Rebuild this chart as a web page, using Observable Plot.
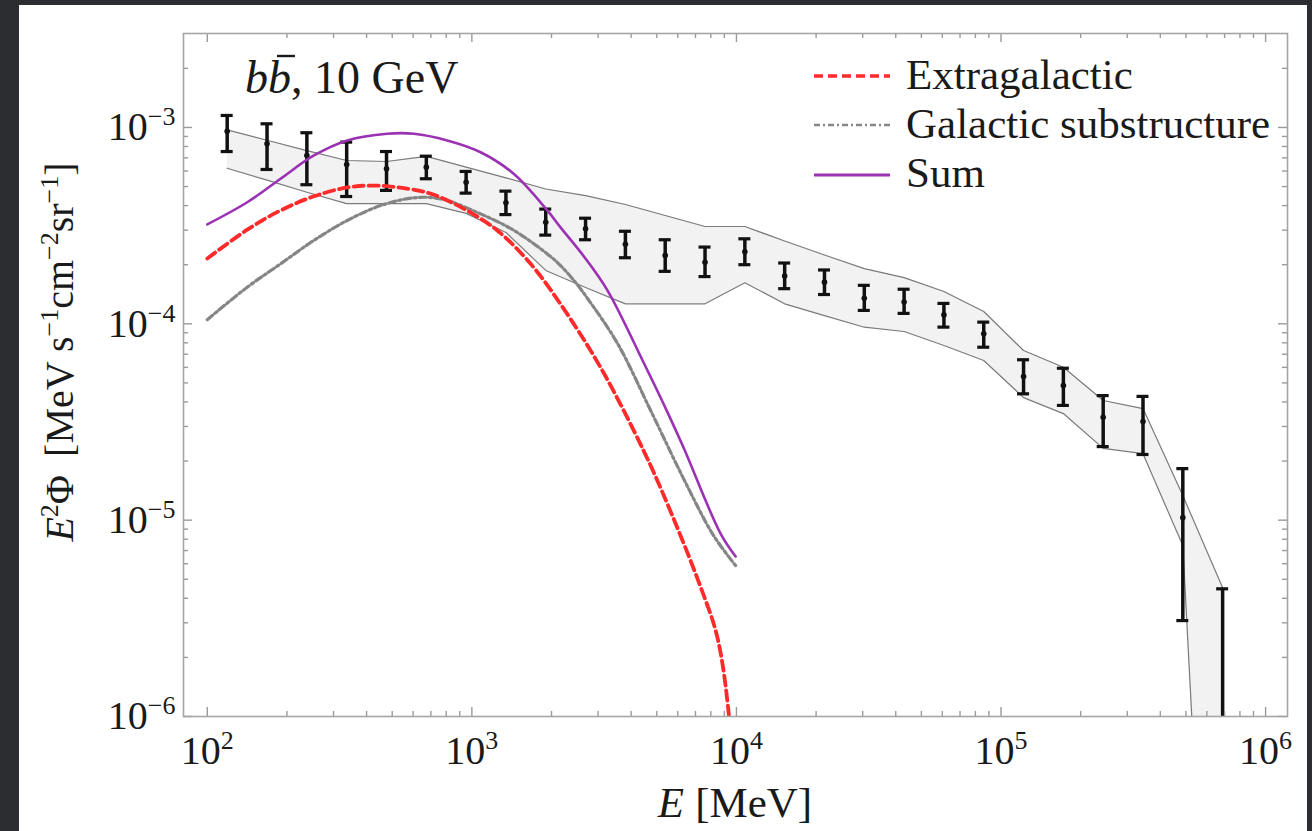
<!DOCTYPE html>
<html><head><meta charset="utf-8">
<script src="https://cdn.jsdelivr.net/npm/d3@7"></script>
<script src="https://cdn.jsdelivr.net/npm/@observablehq/plot@0.6"></script>
<style>
body{margin:0;background:#2c2d31;width:1312px;height:831px;overflow:hidden;position:relative;font-family:"Liberation Serif",serif}
#panel{position:absolute;left:19px;top:5px;width:1288px;height:826px;background:#fff}
#chart{position:absolute;left:0;top:0}
#overlay{position:absolute;left:0;top:0;font-family:"Liberation Serif",serif;fill:#1a1a1a}
</style></head><body>
<div id="panel"></div><div id="chart"></div>
<svg id="overlay" width="1312" height="831">
<text id="title" x="245" y="93" font-size="46"><tspan font-style="italic">b</tspan><tspan font-style="italic">b</tspan>, 10 GeV</text>
<line x1="814" x2="890" y1="76" y2="76" stroke="#ff2b2b" stroke-width="3.5" stroke-dasharray="9,5"/>
<line x1="814" x2="890" y1="125" y2="125" stroke="#888" stroke-width="2.6" stroke-dasharray="6,3,2,3"/>
<line x1="814" x2="890" y1="175" y2="175" stroke="#9b32b4" stroke-width="3"/>
<text x="906" y="89" font-size="43">Extragalactic</text>
<text x="906" y="138" font-size="43">Galactic substructure</text>
<text x="906" y="187" font-size="43">Sum</text>
<text x="735" y="817" font-size="43" text-anchor="middle"><tspan font-style="italic">E</tspan><tspan dx="11">[MeV]</tspan></text>
<text transform="translate(73,352) rotate(-90)" text-anchor="middle" font-size="40"><tspan font-style="italic">E</tspan><tspan font-size="26" dy="-15">2</tspan><tspan dy="15">Φ</tspan><tspan dx="18">[MeV s</tspan><tspan font-size="26" dy="-15">−1</tspan><tspan dy="15">cm</tspan><tspan font-size="26" dy="-15">−2</tspan><tspan dy="15">sr</tspan><tspan font-size="26" dy="-15">−1</tspan><tspan dy="15">]</tspan></text>
</svg>
<script>
// ---- data ----
const binE = [118.9, 168.2, 237.9, 336.4, 475.8, 672.8, 951.3, 1345, 1902, 2690, 3805, 5380, 7608, 10760, 15215, 21516, 30426, 43025, 60843, 86040, 121670, 172060, 243310, 344070, 486560, 688060];
const fluxC  = [9.57e-4, 8.26e-4, 7.20e-4, 6.48e-4, 6.16e-4, 6.28e-4, 5.26e-4, 4.13e-4, 3.29e-4, 3.05e-4, 2.54e-4, 2.23e-4, 2.06e-4, 2.33e-4, 1.75e-4, 1.63e-4, 1.35e-4, 1.29e-4, 1.11e-4, 8.89e-5, 5.39e-5, 4.85e-5, 3.34e-5, 3.18e-5, 1.03e-5, null];
const fluxHi = [1.151e-3, 1.044e-3, 9.40e-4, 8.42e-4, 7.54e-4, 7.14e-4, 5.97e-4, 4.74e-4, 3.84e-4, 3.45e-4, 2.96e-4, 2.68e-4, 2.46e-4, 2.71e-4, 2.04e-4, 1.88e-4, 1.57e-4, 1.50e-4, 1.27e-4, 1.02e-4, 6.56e-5, 5.94e-5, 4.31e-5, 4.27e-5, 1.83e-5, 4.47e-6];
const fluxLo = [7.54e-4, 6.11e-4, 5.11e-4, 4.45e-4, 4.78e-4, 5.48e-4, 4.63e-4, 3.60e-4, 2.83e-4, 2.68e-4, 2.17e-4, 1.85e-4, 1.74e-4, 2.00e-4, 1.51e-4, 1.41e-4, 1.17e-4, 1.13e-4, 9.62e-5, 7.60e-5, 4.40e-5, 3.84e-5, 2.37e-5, 2.16e-5, 3.08e-6, 1e-8];
const bandHi = [9.73e-4, 8.61e-4, 7.62e-4, 6.79e-4, 6.71e-4, 7.12e-4, 6.28e-4, 5.54e-4, 4.86e-4, 4.50e-4, 4.05e-4, 3.56e-4, 3.13e-4, 3.13e-4, 2.64e-4, 2.24e-4, 1.91e-4, 1.72e-4, 1.46e-4, 1.155e-4, 7.31e-5, 6.01e-5, 4.07e-5, 3.70e-5, 1.334e-5, 4.53e-6];
const bandLo = [6.20e-4, 5.39e-4, 4.68e-4, 4.09e-4, 4.09e-4, 4.09e-4, 3.65e-4, 2.92e-4, 1.87e-4, 1.53e-4, 1.264e-4, 1.264e-4, 1.264e-4, 1.62e-4, 1.264e-4, 1.10e-4, 9.61e-5, 9.14e-5, 7.75e-5, 6.50e-5, 4.21e-5, 3.49e-5, 2.32e-5, 2.18e-5, 7.42e-6, 1e-9];

const sumE = [100, 141.6, 189.2, 252.9, 338.1, 478.6, 603.9, 807.2, 1079, 1439, 1928, 2163, 2652, 3258, 4457, 5495, 6310, 8710, 9931];
const sumV = [3.21e-4, 4.16e-4, 5.48e-4, 7.20e-4, 8.59e-4, 9.29e-4, 9.29e-4, 8.59e-4, 7.48e-4, 5.81e-4, 3.78e-4, 3.10e-4, 2.203e-4, 1.477e-4, 6.35e-5, 3.53e-5, 2.343e-5, 8.54e-6, 6.53e-6];
const egE = [100, 141.6, 189.2, 252.9, 338.1, 426.6, 522.4, 698.2, 933.3, 1247, 1667, 2163, 3062, 4457, 5483, 7328, 8472, 9354, 9660];
const egV = [2.15e-4, 3.015e-4, 3.78e-4, 4.46e-4, 4.95e-4, 5.06e-4, 4.96e-4, 4.60e-4, 3.85e-4, 2.99e-4, 2.02e-4, 1.26e-4, 6.01e-5, 2.26e-5, 1.21e-5, 4.55e-6, 2.53e-6, 1.03e-6, 5.0e-7];
const galE = [100, 141.6, 189.2, 252.9, 338.1, 451.9, 603.9, 762.1, 1079, 1442, 1928, 2164, 2466, 2737, 3555, 4739, 6310, 8194, 9931];
const galV = [1.05e-4, 1.536e-4, 2.02e-4, 2.66e-4, 3.36e-4, 4.00e-4, 4.38e-4, 4.33e-4, 3.63e-4, 2.99e-4, 2.27e-4, 1.98e-4, 1.623e-4, 1.346e-4, 7.93e-5, 3.62e-5, 1.628e-5, 8.35e-6, 5.87e-6];

const xMajor = [1e2, 1e3, 1e4, 1e5, 1e6];
const yMajor = [1e-6, 1e-5, 1e-4, 1e-3];
const xMinor = [], yMinor = [];
for (const k of [2, 3, 4, 5]) for (let m = 2; m <= 9; m++) xMinor.push(m * 10 ** k);
for (const k of [-6, -5, -4]) for (let m = 2; m <= 9; m++) yMinor.push(m * 10 ** k);
yMinor.push(2e-3);

// ---- layout ----
const W = 1312, H = 831, mL = 183, mR = 25, mT = 33, mB = 115;
const iW = W - mL - mR, iH = H - mT - mB;
const tickC = "#9a9a9a";

const bars = binE.map((E, i) => ({E, c: fluxC[i], lo: fluxLo[i], hi: fluxHi[i], bhi: bandHi[i], blo: bandLo[i]}));
const toRows = (E, V) => E.map((e, i) => ({E: e, v: V[i]}));
const fmt = d => "10^" + Math.round(Math.log10(d));

const chart = Plot.plot({
  width: W, height: H, marginLeft: mL, marginRight: mR, marginTop: mT, marginBottom: mB,
  style: {background: "transparent", fontFamily: "Liberation Serif", fontSize: "40px", color: "#1a1a1a", overflow: "visible"},
  x: {type: "log", domain: [81.3, 1.21e6], ticks: xMajor, tickSize: 0, tickPadding: 19, tickFormat: fmt, label: null},
  y: {type: "log", domain: [1e-6, 3.01e-3], ticks: yMajor, tickSize: 0, tickPadding: 8, tickFormat: fmt, label: null},
  marks: [
    Plot.areaY(bars, {x: "E", y1: "blo", y2: "bhi", fill: "#f2f2f2", clip: true}),
    Plot.line(bars, {x: "E", y: "bhi", stroke: "#7a7a7a", strokeWidth: 1.2, clip: true}),
    Plot.line(bars, {x: "E", y: "blo", stroke: "#7a7a7a", strokeWidth: 1.2, clip: true}),
    Plot.ruleX(bars, {x: "E", y1: "lo", y2: "hi", stroke: "#111", strokeWidth: 3.5, clip: true}),
    Plot.ruleY(bars, {y: "hi", x1: "E", x2: "E", insetLeft: -6, insetRight: -6, stroke: "#111", strokeWidth: 3.2, clip: true}),
    Plot.ruleY(bars, {y: "lo", x1: "E", x2: "E", insetLeft: -6, insetRight: -6, stroke: "#111", strokeWidth: 3.2, clip: true}),
    Plot.dot(bars.filter(d => d.c != null), {x: "E", y: "c", r: 2.8, fill: "#111"}),
    Plot.line(toRows(galE, galV), {x: "E", y: "v", stroke: "#858585", strokeWidth: 3.2, strokeDasharray: "7,3,2.5,3", curve: "catmull-rom", clip: true}),
    Plot.line(toRows(egE, egV), {x: "E", y: "v", stroke: "#ff2b2b", strokeWidth: 3.8, strokeDasharray: "10,5", curve: "catmull-rom", clip: true}),
    Plot.line(toRows(sumE, sumV), {x: "E", y: "v", stroke: "#9b32b4", strokeWidth: 2.6, curve: "catmull-rom", clip: true}),
    // inward ticks on all four sides
    Plot.tickX(xMajor, {x: d => d, insetTop: iH - 9, stroke: tickC, strokeWidth: 1.4}),
    Plot.tickX(xMinor, {x: d => d, insetTop: iH - 5, stroke: tickC, strokeWidth: 1.4}),
    Plot.tickX(xMajor, {x: d => d, insetBottom: iH - 9, stroke: tickC, strokeWidth: 1.4}),
    Plot.tickX(xMinor, {x: d => d, insetBottom: iH - 5, stroke: tickC, strokeWidth: 1.4}),
    Plot.tickY(yMajor, {y: d => d, insetRight: iW - 9, stroke: tickC, strokeWidth: 1.4}),
    Plot.tickY(yMinor, {y: d => d, insetRight: iW - 5, stroke: tickC, strokeWidth: 1.4}),
    Plot.tickY(yMajor, {y: d => d, insetLeft: iW - 9, stroke: tickC, strokeWidth: 1.4}),
    Plot.tickY(yMinor, {y: d => d, insetLeft: iW - 5, stroke: tickC, strokeWidth: 1.4}),
    Plot.frame({stroke: "#a5a5a5", strokeWidth: 1.6})
  ]
});
document.getElementById("chart").append(chart);

// superscript exponents on tick labels
const NS = "http://www.w3.org/2000/svg";
chart.querySelectorAll("text").forEach(t => {
  const m = t.textContent.match(/^10\^(-?\d+)$/);
  if (!m) return;
  t.textContent = "";
  const b = document.createElementNS(NS, "tspan"); b.textContent = "10";
  const s = document.createElementNS(NS, "tspan");
  s.setAttribute("font-size", "26"); s.setAttribute("dy", "-15");
  s.textContent = m[1].replace("-", "\u2212");
  t.append(b, s);
});

// overline on the second b of the title
const title = document.getElementById("title");
const ext = title.getExtentOfChar(1);
const ov = document.createElementNS(NS, "line");
ov.setAttribute("x1", ext.x + 9); ov.setAttribute("x2", ext.x + ext.width + 4);
ov.setAttribute("y1", ext.y + 4); ov.setAttribute("y2", ext.y + 4);
ov.setAttribute("stroke", "#1a1a1a"); ov.setAttribute("stroke-width", "2.4");
document.getElementById("overlay").append(ov);
</script>
</body></html>
